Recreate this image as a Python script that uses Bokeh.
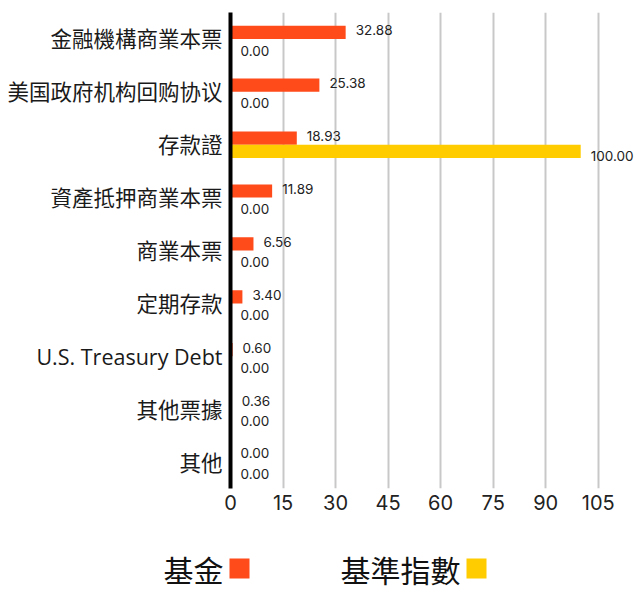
from bokeh.plotting import figure
from bokeh.models import ColumnDataSource, FactorRange, Range1d, FixedTicker
from bokeh.transform import dodge
from bokeh.core.properties import value
from bokeh.embed import file_html
from bokeh.resources import INLINE

categories = ["金融機構商業本票", "美国政府机构回购协议", "存款證", "資產抵押商業本票",
              "商業本票", "定期存款", "U.S. Treasury Debt", "其他票據", "其他"]
fund = [32.88, 25.38, 18.93, 11.89, 6.56, 3.40, 0.60, 0.36, 0.00]
benchmark = [0.00, 0.00, 100.00, 0.00, 0.00, 0.00, 0.00, 0.00, 0.00]
x_ticks = [0, 15, 30, 45, 60, 75, 90, 105]
series_names = ["基金", "基準指數"]

FUND_COLOR = "#FF4B1A"
BENCH_COLOR = "#FFCC00"
CJK = "Open Sans, Noto Sans CJK TC"

src = ColumnDataSource(dict(
    cat=categories,
    fund=fund,
    bench=benchmark,
    fund_txt=["%.2f" % v for v in fund],
    bench_txt=["%.2f" % v for v in benchmark],
))

p = figure(width=638, height=520, output_backend="svg", toolbar_location=None,
           y_range=FactorRange(factors=list(reversed(categories)), range_padding=0),
           x_range=Range1d(0, 116.5),
           min_border_left=230, min_border_right=0, min_border_top=12, min_border_bottom=32)

p.hbar(y=dodge("cat", 0.125, range=p.y_range), right="fund", left=0, height=0.25,
       source=src, color=FUND_COLOR, line_color=None)
p.hbar(y=dodge("cat", -0.125, range=p.y_range), right="bench", left=0, height=0.25,
       source=src, color=BENCH_COLOR, line_color=None)

p.text(x="fund", y=dodge("cat", 0.125, range=p.y_range), text="fund_txt", source=src,
       x_offset=10, y_offset=-2, text_font=value("Inter"), text_font_size="13.5px",
       text_baseline="middle", text_color="#222222")
p.text(x="bench", y=dodge("cat", -0.125, range=p.y_range), text="bench_txt", source=src,
       x_offset=10, y_offset=5, text_font=value("Inter"), text_font_size="13.5px",
       text_baseline="middle", text_color="#222222")

p.outline_line_color = None
p.ygrid.grid_line_color = None
p.xgrid.grid_line_color = "#c8c8c8"
p.xgrid.grid_line_width = 2
p.xaxis.ticker = FixedTicker(ticks=x_ticks)
p.xaxis.axis_line_color = None
p.xaxis.major_tick_line_color = None
p.xaxis.minor_tick_line_color = None
p.xaxis.major_tick_out = 0
p.xaxis.major_label_standoff = 6
p.xaxis.major_label_text_font = "Inter"
p.xaxis.major_label_text_font_size = "20px"
p.xaxis.major_label_text_color = "#222222"

p.yaxis.axis_line_color = "black"
p.yaxis.axis_line_width = 4
p.yaxis.major_tick_line_color = None
p.yaxis.minor_tick_line_color = None
p.yaxis.major_tick_out = 0
p.yaxis.major_label_standoff = 8
p.yaxis.major_label_text_font = CJK
p.yaxis.major_label_text_font_size = "21.5px"
p.yaxis.major_label_text_color = "#1a1a1a"

# legend strip, a separate root below the chart (data units = page pixels horizontally)
lg = figure(width=638, height=69, output_backend="svg", toolbar_location=None,
            x_range=Range1d(0, 638), y_range=Range1d(0, 69),
            min_border_left=0, min_border_right=0, min_border_top=0, min_border_bottom=0)
lg.axis.visible = False
lg.grid.visible = False
lg.outline_line_color = None
leg_src = ColumnDataSource(dict(
    name=series_names,
    tx=[223, 460],
    sx=[239, 476],
    y=[21, 21],
    color=[FUND_COLOR, BENCH_COLOR],
))
lg.text(x="tx", y="y", text="name", source=leg_src, text_align="right",
        text_baseline="middle", text_font=value("Noto Sans CJK TC"),
        text_font_size="30px", text_color="#111111")
lg.rect(x="sx", y="y", width=20, height=20, width_units="screen", height_units="screen",
        source=leg_src, fill_color="color", line_color=None)

open("out.html", "w").write(file_html((p, lg), INLINE))
